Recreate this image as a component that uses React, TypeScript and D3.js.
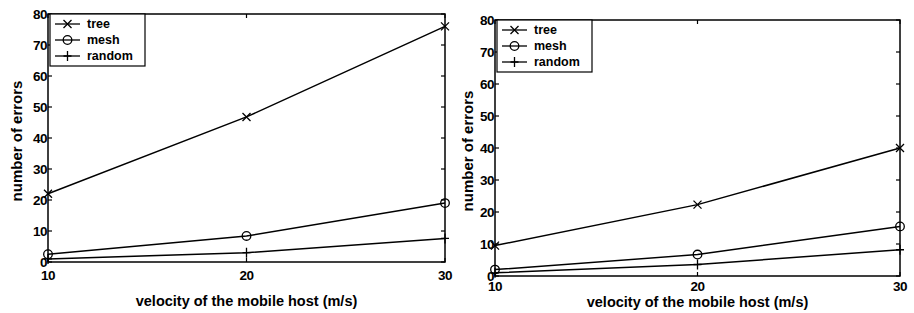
import * as d3 from "d3";

const velocity = [10, 20, 30];
const yTicks = [0, 10, 20, 30, 40, 50, 60, 70, 80];
const seriesNames = ["tree", "mesh", "random"];

// left panel
const leftTree = [22, 46.8, 76];
const leftMesh = [2.5, 8.4, 19];
const leftRandom = [1, 3, 7.6];

// right panel
const rightTree = [9.5, 22.3, 40];
const rightMesh = [2, 6.7, 15.5];
const rightRandom = [1, 3.6, 8.2];

const font = "'Liberation Sans', Arial, sans-serif";

type Box = { x0: number; x1: number; y0: number; y1: number };

const Marker = ({ kind, x, y }: { kind: string; x: number; y: number }) => {
  const s = 4;
  if (kind === "tree")
    return (
      <path d={`M${x - s},${y - s}L${x + s},${y + s}M${x - s},${y + s}L${x + s},${y - s}`} stroke="#000" strokeWidth={1.3} />
    );
  if (kind === "mesh") return <circle cx={x} cy={y} r={4.3} fill="none" stroke="#000" strokeWidth={1.3} />;
  return <path d={`M${x - s},${y}L${x + s},${y}M${x},${y - s - 1}L${x},${y + s + 1}`} stroke="#000" strokeWidth={1.3} />;
};

const Panel = ({ box, series, labelX, tickY, titleY }: { box: Box; series: number[][]; labelX: number; tickY: number; titleY: number }) => {
  const x = d3.scaleLinear().domain([10, 30]).range([box.x0, box.x1]);
  const y = d3.scaleLinear().domain([0, 80]).range([box.y1, box.y0]);
  const line = d3.line<number>().x((_, i) => x(velocity[i])).y((d) => y(d));
  const tl = 4;
  const legX = box.x0 + 2;
  const legY = box.y0;
  return (
    <g fontFamily={font} fontWeight="bold" fill="#000">
      <rect x={box.x0} y={box.y0} width={box.x1 - box.x0} height={box.y1 - box.y0} fill="none" stroke="#000" strokeWidth={1.5} />
      {yTicks.map((t) => (
        <g key={t}>
          <line x1={box.x0} x2={box.x0 + tl} y1={y(t)} y2={y(t)} stroke="#000" strokeWidth={1.2} />
          <line x1={box.x1} x2={box.x1 - tl} y1={y(t)} y2={y(t)} stroke="#000" strokeWidth={1.2} />
          <text x={box.x0 - 1} y={y(t)} dy="0.35em" textAnchor="end" fontSize={13.5} letterSpacing={-0.5}>
            {t}
          </text>
        </g>
      ))}
      {velocity.map((v) => (
        <g key={v}>
          <line x1={x(v)} x2={x(v)} y1={box.y1} y2={box.y1 - tl} stroke="#000" strokeWidth={1.2} />
          <line x1={x(v)} x2={x(v)} y1={box.y0} y2={box.y0 + tl} stroke="#000" strokeWidth={1.2} />
          <text x={x(v)} y={tickY} textAnchor="middle" fontSize={13.5} letterSpacing={-0.5}>
            {v}
          </text>
        </g>
      ))}
      <text x={(box.x0 + box.x1) / 2} y={titleY} textAnchor="middle" fontSize={14.5}>
        velocity of the mobile host (m/s)
      </text>
      <text transform={`translate(${labelX},${(box.y0 + box.y1) / 2 + 3}) rotate(-90)`} textAnchor="middle" fontSize={15}>
        number of errors
      </text>
      {series.map((s, k) => (
        <g key={k}>
          <path d={line(s) ?? ""} fill="none" stroke="#000" strokeWidth={1.5} />
          {s.map((d, i) => (
            <Marker key={i} kind={seriesNames[k]} x={x(velocity[i])} y={y(d)} />
          ))}
        </g>
      ))}
      <rect x={legX} y={legY} width={95} height={52} fill="#fff" stroke="#000" strokeWidth={1.2} />
      {seriesNames.map((n, k) => {
        const ly = legY + 10 + k * 16;
        return (
          <g key={n}>
            <line x1={legX + 5} x2={legX + 30} y1={ly} y2={ly} stroke="#000" strokeWidth={1.3} />
            <Marker kind={n} x={legX + 17.5} y={ly} />
            <text x={legX + 37} y={ly} dy="0.35em" fontSize={12.5}>
              {n}
            </text>
          </g>
        );
      })}
    </g>
  );
};

const App = () => (
  <svg width={914} height={313} style={{ position: "absolute", left: 0, top: 0 }}>
    <rect width={914} height={313} fill="#fff" />
    <Panel box={{ x0: 48, x1: 445, y0: 14, y1: 262 }} series={[leftTree, leftMesh, leftRandom]} labelX={22} tickY={280} titleY={306} />
    <Panel box={{ x0: 495, x1: 900, y0: 20, y1: 276 }} series={[rightTree, rightMesh, rightRandom]} labelX={473} tickY={291} titleY={307} />
  </svg>
);

export default App;
